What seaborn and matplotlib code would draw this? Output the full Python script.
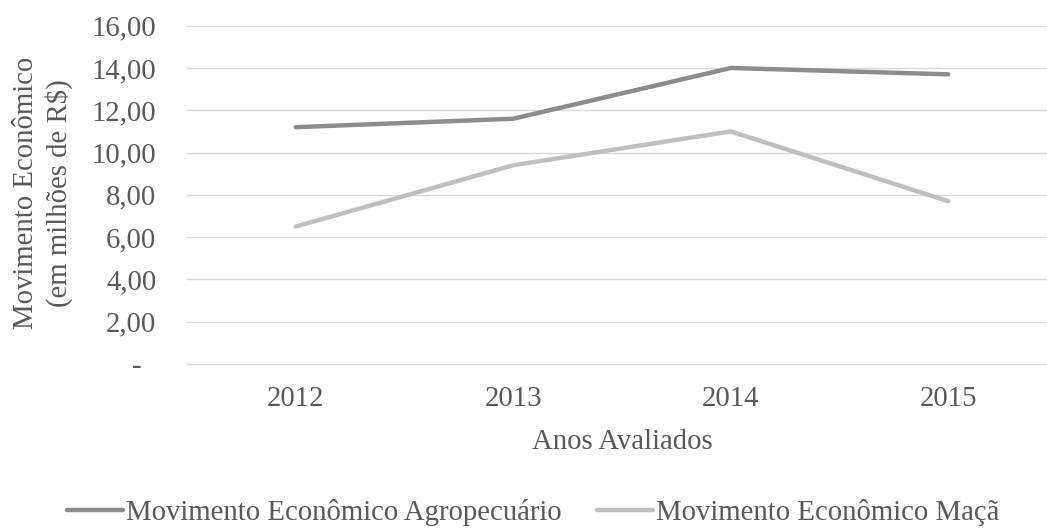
import matplotlib
matplotlib.use("Agg")
import matplotlib.pyplot as plt
import seaborn as sns
import pandas as pd
from matplotlib.lines import Line2D

# Data
anos = ["2012", "2013", "2014", "2015"]
agropecuario = [11.2, 11.6, 14.0, 13.7]
maca = [6.5, 9.4, 11.0, 7.7]
series_nomes = ["Movimento Econômico Agropecuário", "Movimento Econômico Maçã"]
y_ticks = [0, 2, 4, 6, 8, 10, 12, 14, 16]

cores = ["#8c8c8c", "#bfbfbf"]
texto_cor = "#595959"
fs = 20.7

sns.set_theme(style="white")
plt.rcParams["font.family"] = ["Liberation Serif", "DejaVu Serif"]

df = pd.DataFrame({
    "ano": anos * 2,
    "valor": agropecuario + maca,
    "serie": [series_nomes[0]] * len(anos) + [series_nomes[1]] * len(anos),
})
df["pos"] = df["ano"].map({a: i for i, a in enumerate(anos)})

fig = plt.figure(figsize=(10.47, 5.28), dpi=100)
ax = fig.add_axes([187 / 1047, 164 / 528, 870 / 1047, 338.3 / 528])

sns.lineplot(data=df, x="pos", y="valor", hue="serie", hue_order=series_nomes,
             palette=cores, linewidth=3.2, ax=ax, legend=False,
             solid_capstyle="round", solid_joinstyle="miter")

ax.set_xlim(-0.5, len(anos) - 0.5)
ax.set_ylim(0, 16)
ax.set_xticks(range(len(anos)))
ax.set_xticklabels(anos)
ax.set_yticks(y_ticks)
ax.set_yticklabels(["-  " if v == 0 else f"{v:.2f}".replace(".", ",") for v in y_ticks])

ax.grid(axis="y", color="#d9d9d9", linewidth=1.0)
ax.grid(axis="x", visible=False)
for gl in ax.get_ygridlines():
    gl.set_clip_on(False)
ax.set_axisbelow(True)
for s in ax.spines.values():
    s.set_visible(False)

ax.tick_params(axis="y", length=0, pad=22, labelsize=fs, labelcolor=texto_cor)
ax.tick_params(axis="x", length=0, pad=16, labelsize=fs, labelcolor=texto_cor)

ax.set_xlabel("Anos Avaliados", fontsize=fs, color=texto_cor, labelpad=12)
ax.set_ylabel("")

fig.text(43 / 1047, 1 - 193 / 528, "Movimento Econômico\n(em milhões de R$)",
         rotation=90, ha="center", va="center", multialignment="center",
         fontsize=fs, color=texto_cor, linespacing=1.3)

handles = [Line2D([0], [0], color=c, linewidth=3.2, solid_capstyle="round") for c in cores]
fig.legend(handles, series_nomes, loc="center", bbox_to_anchor=(533 / 1047, 1 - 513 / 528),
           ncol=2, frameon=False, fontsize=fs, labelcolor=texto_cor,
           handlelength=1.95, handletextpad=0.1, columnspacing=1.25, borderaxespad=0)

fig.savefig("out.png", dpi=100)
